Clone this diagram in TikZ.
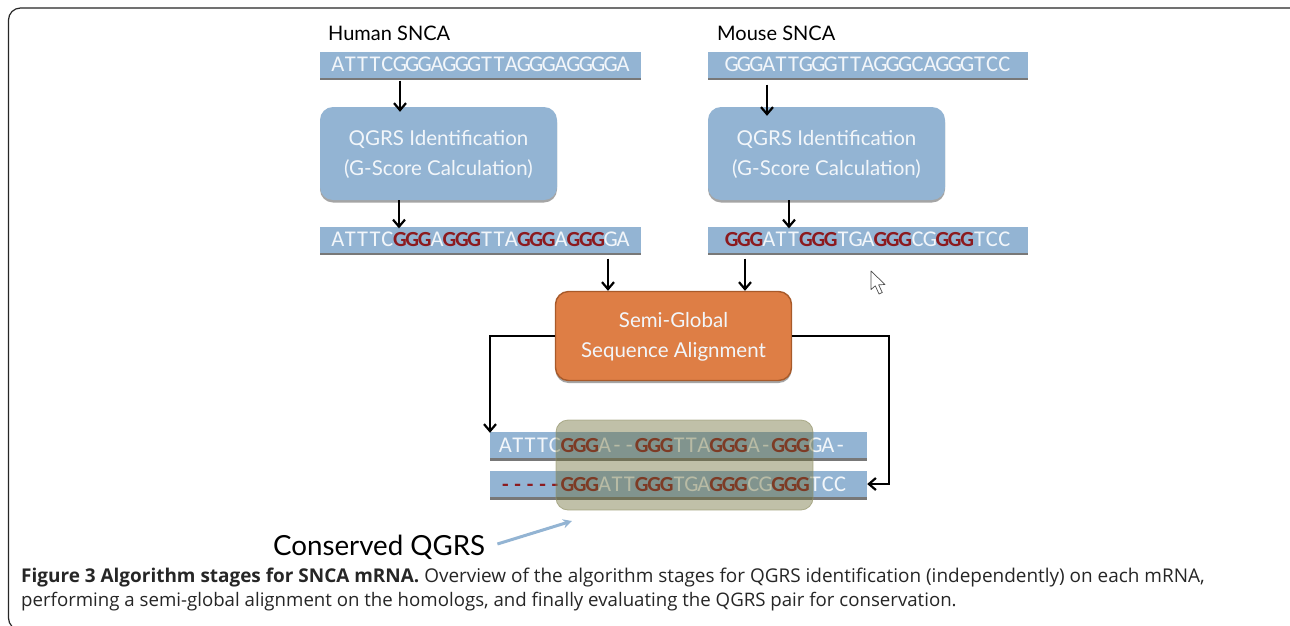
\documentclass[tikz,border=0pt]{standalone}
\usepackage{fontspec}
\usetikzlibrary{shadows,arrows.meta}
\setmainfont{Open Sans}
\newfontfamily\seqfont{Carlito}
\newfontfamily\labfont{Lato}
\definecolor{barblue}{HTML}{93B4D3}
\definecolor{orangebox}{HTML}{DE7E45}
\definecolor{orangeedge}{HTML}{A85A2A}
\definecolor{gred}{HTML}{8C1A1E}
\definecolor{seqwhite}{HTML}{F2F6FA}
\definecolor{olive}{HTML}{6A6A30}
\makeatletter
\newcommand{\Sq}[1]{\@tfor\sq@c:=#1\do{\makebox[12.4pt][c]{\sq@c}}}
\makeatother
\newcommand{\Gg}[1]{\textcolor{gred}{\bfseries\fontsize{21.5}{24}\selectfont\Sq{#1}}}
\tikzset{
  x=1pt,y=-1pt,
  seqbar/.style={fill=barblue,minimum height=26pt,inner sep=0pt,text=seqwhite,
    font=\seqfont\fontsize{22.5}{24}\selectfont,
    drop shadow={shadow xshift=0pt,shadow yshift=-2.5pt,opacity=.7,fill=black!75}},
  stagebox/.style={fill=barblue,rounded corners=13pt,minimum width=237pt,minimum height=93pt,
    inner sep=0pt,
    drop shadow={shadow xshift=0pt,shadow yshift=-2.5pt,opacity=.5,fill=black!70}},
  stagetext/.style={inner sep=0pt,align=center,text=seqwhite,font=\labfont\fontsize{20.5}{29.5}\selectfont},
  flow/.style={draw=black,line width=2.2pt,-{Straight Barb[length=7pt,width=12pt,line width=2.2pt]}},
  title/.style={inner sep=0pt,anchor=base west,font=\labfont\fontsize{20}{22}\selectfont},
  caption/.style={inner sep=0pt,anchor=base west,text=black!85,font=\fontsize{18.95}{22}\selectfont},
}
\begin{document}
\begin{tikzpicture}
\useasboundingbox (0,0) rectangle (1290,625);
\fill[white] (0,0) rectangle (1290,625);
\draw[line width=1.2pt,black!85,rounded corners=12pt] (1300,8) -- (8.5,8) -- (8.5,630) -- (30,630);

\node[title] (thuman) at (328,40) {Human SNCA};
\node[title] (tmouse) at (717,40) {Mouse SNCA};

\node[seqbar,minimum width=321pt] (h1) at (480.5,64.5) {\Sq{ATTTCGGGAGGGTTAGGGAGGGGA}};
\node[seqbar,minimum width=320pt] (m1) at (868,64.5) {\Sq{GGGATTGGGTTAGGGCAGGGTCC}};
\node[stagebox] (hq) at (438.5,153.5) {};
\node[stagetext] (hqt) at (438.5,154.5) {QGRS Identification\\(G-Score Calculation)};
\node[stagebox] (mq) at (826.5,153.5) {};
\node[stagetext] (mqt) at (826.5,154.5) {QGRS Identification\\(G-Score Calculation)};
\node[seqbar,minimum width=321pt] (h2) at (480.5,239.5) {\Sq{ATTTC}\Gg{GGG}\Sq{A}\Gg{GGG}\Sq{TTA}\Gg{GGG}\Sq{A}\Gg{GGG}\Sq{GA}};
\node[seqbar,minimum width=320pt] (m2) at (868,239.5) {\Gg{GGG}\Sq{ATT}\Gg{GGG}\Sq{TGA}\Gg{GGG}\Sq{CG}\Gg{GGG}\Sq{TCC}};

\node[draw=orangeedge,line width=1.4pt,fill=orangebox,rounded corners=13pt,minimum width=236pt,minimum height=89pt,
  inner sep=0pt,
  drop shadow={shadow xshift=0pt,shadow yshift=-2.5pt,opacity=.5,fill=black!70}] (sg) at (673.5,336) {};
\node[stagetext] (sgt) at (673.5,337) {Semi-Global\\Sequence Alignment};

\node[seqbar,minimum width=377pt] (a1) at (678.5,445) {};
\node[seqbar,minimum width=377pt] (a2) at (678.5,484) {};
\node[inner sep=0pt,anchor=west,text=seqwhite,font=\seqfont\fontsize{22.5}{24}\selectfont] (a1t) at (499,445)
  {\Sq{ATTTC}\Gg{GGG}\Sq{A--}\Gg{GGG}\Sq{TTA}\Gg{GGG}\Sq{A-}\Gg{GGG}\Sq{GA-}};
\node[inner sep=0pt,anchor=west,text=seqwhite,font=\seqfont\fontsize{22.5}{24}\selectfont] (a2t) at (499,484)
  {\Gg{-----GGG}\Sq{ATT}\Gg{GGG}\Sq{TGA}\Gg{GGG}\Sq{CG}\Gg{GGG}\Sq{TCC}};

\node[draw=olive!70!white,line width=.8pt,fill=olive,fill opacity=.42,draw opacity=.7,rounded corners=12pt,
  minimum width=257pt,minimum height=90pt,inner sep=0pt] (cons) at (684.5,465) {};

\draw[flow] ([xshift=-80.5pt,yshift=-3pt]h1.south) -- ([xshift=-38.5pt,yshift=-5pt]hq.north);
\draw[flow] ([xshift=-101pt,yshift=-7pt]m1.south) -- ([xshift=-59.5pt,yshift=-9pt]mq.north);
\draw[flow] ([xshift=-39.5pt]hq.south) -- ([xshift=-81.5pt,yshift=-2pt]h2.north);
\draw[flow] ([xshift=-37.5pt]mq.south) -- ([xshift=-79pt,yshift=-2pt]m2.north);
\draw[flow] ([xshift=127.5pt,yshift=-6pt]h2.south) -- ([xshift=-65.5pt]sg.north);
\draw[flow] ([xshift=-123pt,yshift=-6pt]m2.south) -- ([xshift=71.5pt]sg.north);
\draw[flow] (sg.west) -| ([xshift=-188.5pt,yshift=-1pt]a1.north);
\draw[flow] (sg.east) -| ([xshift=22pt]a2.east) -- (a2.east);

\node[inner sep=0pt,anchor=base west,font=\labfont\fontsize{27.7}{32}\selectfont] (cq) at (273,555) {Conserved QGRS};
\coordinate (cqarrow) at (572,521);
\draw[draw=barblue,line width=3pt,-{Stealth[length=9pt,width=9pt]}] ([xshift=12pt,yshift=11pt]cq.base east) -- (cqarrow);

\draw[black!70,fill=white,line width=.7pt,line join=round]
  (871,271) -- (871,289.5) -- (875.3,285.8) -- (879,294) -- (882.3,292.5) -- (878.6,284.8) -- (885,284.5) -- cycle;

\node[caption] (cap1) at (21,582) {\textbf{Figure 3 Algorithm stages for SNCA mRNA.} Overview of the algorithm stages for QGRS identification (independently) on each mRNA,};
\node[caption,font=\fontsize{18.65}{22}\selectfont] (cap2) at (21,606) {performing a semi-global alignment on the homologs, and finally evaluating the QGRS pair for conservation.};
\end{tikzpicture}
\end{document}
